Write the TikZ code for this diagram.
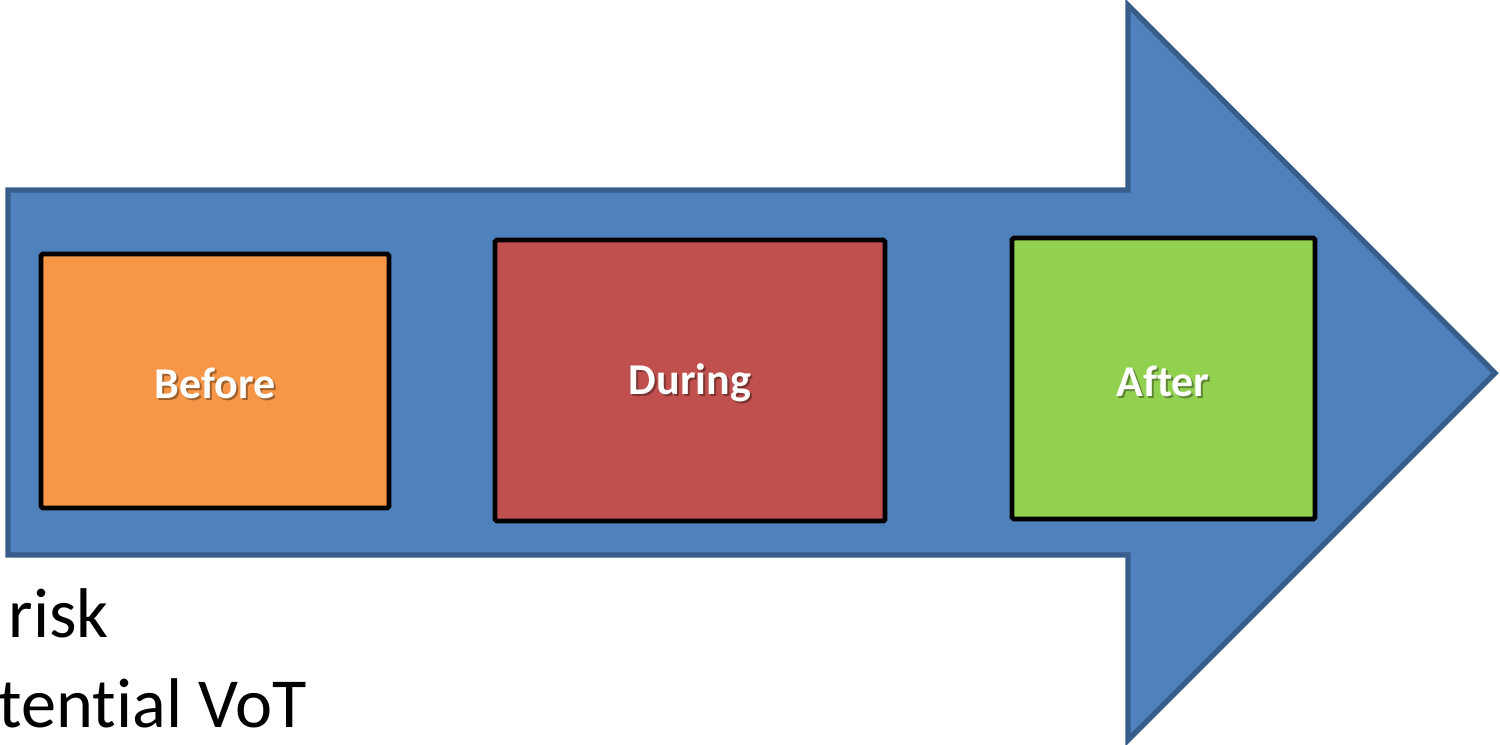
\documentclass[tikz,border=0pt]{standalone}
\usepackage{fontspec}
\setmainfont[Ligatures=NoCommon]{Carlito}
\begin{document}
\begin{tikzpicture}[x=0.01cm,y=-0.01cm,
  phase/.style={draw=black,line width=1.4pt,rounded corners=0.5pt},
  lbl/.style={text=white,font=\bfseries\fontsize{12.5}{15}\selectfont},
  shd/.style={text=black,opacity=0.35,font=\bfseries\fontsize{12.5}{15}\selectfont},
  body/.style={font=\fontsize{20}{24}\selectfont,anchor=base west,inner sep=0pt}]
\definecolor{arrowfill}{HTML}{4F81BD}
\definecolor{arrowline}{HTML}{385D8A}
\definecolor{cbefore}{HTML}{F79646}
\definecolor{cduring}{HTML}{C0504D}
\definecolor{cafter}{HTML}{92D050}
\useasboundingbox (0,0) rectangle (1500,744);
\draw[fill=arrowfill,draw=arrowline,line width=1.5pt,line join=miter]
  (8,190) -- (1128,190) -- (1128,5) -- (1495,373) -- (1128,740) -- (1128,555) -- (8,555) -- cycle;
\draw[phase,fill=cbefore] (41,254) rectangle (389,508);
\draw[phase,fill=cduring] (495,240) rectangle (885,521);
\draw[phase,fill=cafter] (1012,238) rectangle (1315,519);
\node[shd] at (217,385) {Before};
\node[lbl] (before) at (215,383) {Before};
\node[shd] at (692,385) {During};
\node[lbl] (during) at (690,383) {During};
\node[shd] at (1165,383) {After};
\node[lbl] (after) at (1163,381) {After};
\node[body] (risk) at (8,637) {risk};
\node[body] (vot) at (-2,727) {tent\kern0pt ial VoT};
\end{tikzpicture}
\end{document}
